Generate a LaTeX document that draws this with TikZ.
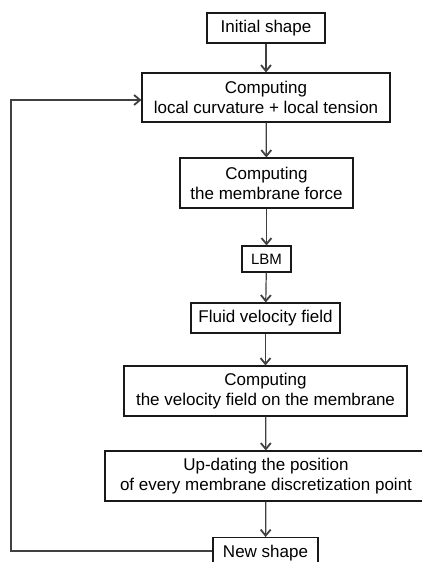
\documentclass[tikz,border=0pt]{standalone}
\usepackage{fontspec}
\setmainfont{Liberation Sans}
\usetikzlibrary{arrows.meta}
\begin{document}
\begin{tikzpicture}[x=1pt,y=-1pt,
  box/.style={draw=black!90, line width=1.1pt, inner sep=0pt, align=center,
    font=\fontsize{17}{20}\selectfont, text=black},
  conn/.style={draw=black!75, line width=1.2pt, -{Straight Barb[length=6pt,width=10pt,line width=1.8pt]}}]
\useasboundingbox (0,0) rectangle (422,562);
\clip (0,0) rectangle (422,562);
\node[box, minimum width=118pt, minimum height=30pt] (init) at (266,28) {Initial shape};
\node[box, minimum width=248pt, minimum height=49pt] (curv) at (266,97.5) {Computing\\local curvature + local tension};
\node[box, minimum width=173pt, minimum height=50pt] (force) at (266.5,183) {Computing\\the membrane force};
\node[box, minimum width=49pt, minimum height=26pt, font=\fontsize{15}{18}\selectfont] (lbm) at (266.5,259) {LBM};
\node[box, minimum width=149pt, minimum height=30pt] (fluid) at (265.5,318) {Fluid velocity field};
\node[box, minimum width=283pt, minimum height=50pt] (vel) at (265.5,391) {Computing\\the velocity field on the membrane};
\node[box, minimum width=322pt, minimum height=50pt] (upd) at (266,476) {Up-dating the position\\of every membrane discretization point};
\node[box, minimum width=105pt, text height=20pt, text depth=16pt, anchor=north] (new) at (265.5,537) {New shape};
\coordinate (lb) at (11,551);
\coordinate (lt) at (11,100);
\draw[conn] (init) -- (curv);
\draw[conn] (curv) -- (force);
\draw[conn] (force) -- (lbm);
\draw[conn] (lbm) -- (fluid);
\draw[conn] (fluid) -- (vel);
\draw[conn] (vel) -- (upd);
\draw[conn] (upd) -- (new);
\draw[conn] (lb -| new.west) -- (lb) -- (lt) -- (lt -| curv.west);
\end{tikzpicture}
\end{document}
